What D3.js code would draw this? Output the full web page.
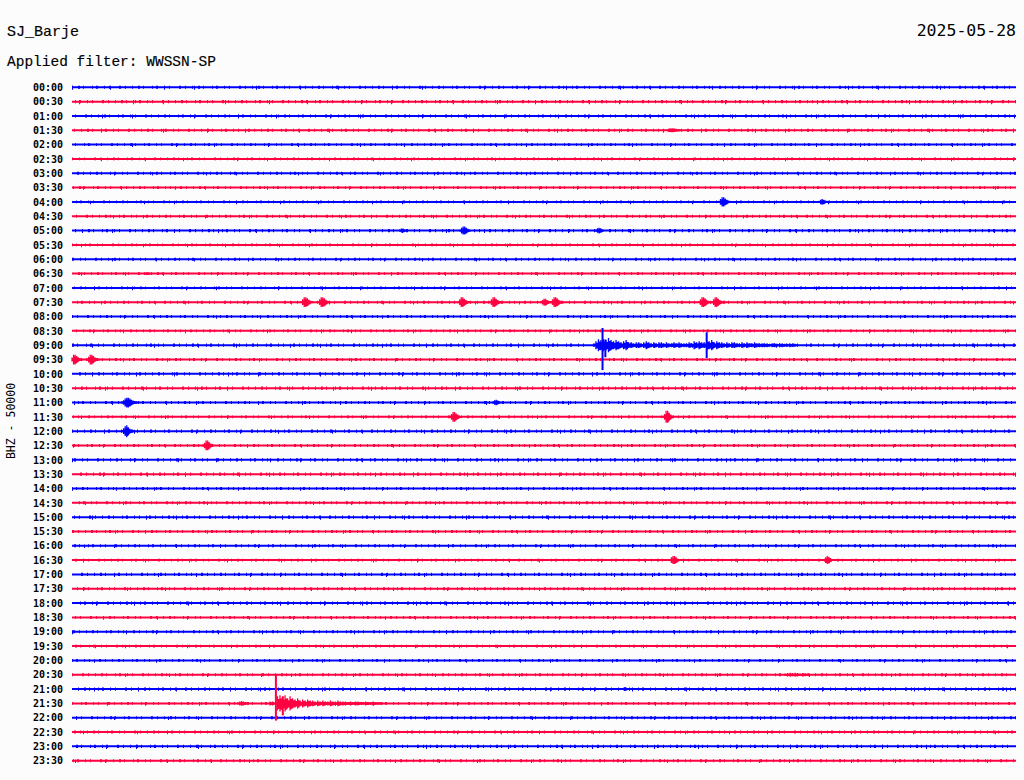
<!DOCTYPE html>
<html>
<head>
<meta charset="utf-8">
<script src="https://cdn.jsdelivr.net/npm/d3@7"></script>
<style>
  html, body { margin: 0; padding: 0; background: #fcfcfc; }
  svg { display: block; }
</style>
</head>
<body>
<script>
// ---------- DATA ----------
const stationName = "SJ_Barje";
const filterText = "Applied filter: WWSSN-SP";
const dateText = "2025-05-28";
const channelText = "BHZ - 50000";

const timeLabels = [
  "00:00","00:30","01:00","01:30","02:00","02:30","03:00","03:30",
  "04:00","04:30","05:00","05:30","06:00","06:30","07:00","07:30",
  "08:00","08:30","09:00","09:30","10:00","10:30","11:00","11:30",
  "12:00","12:30","13:00","13:30","14:00","14:30","15:00","15:30",
  "16:00","16:30","17:00","17:30","18:00","18:30","19:00","19:30",
  "20:00","20:30","21:00","21:30","22:00","22:30","23:00","23:30"
];
const traceColors = ["#0000ff", "#ff0040"];

// background noise level per row (kilo-counts)
const noiseLevel = [
  4,4,4,4,3,3,3,3, 3,3,4,3,3,3,3,3, 3,3,4,3,4,4,4,3,
  4,3,4,4,3,3,4,3, 3,3,4,3,4,3,4,3, 3,3,4,3,3,3,4,3
];

// event envelopes: row, start minute, sample step (min), amplitude (kilo-counts)
const events = [
  { row: "01:30", start: 18.94, step: 0.05, amp: [4,6,7,7,6,5,4,4] },
  { row: "04:00", start: 20.56, step: 0.05, amp: [4,10,16,16,12,8,5,4] },
  { row: "04:00", start: 23.74, step: 0.05, amp: [4,8,10,8,5,4] },
  { row: "05:00", start: 10.42, step: 0.05, amp: [4,7,7,4] },
  { row: "05:00", start: 12.33, step: 0.05, amp: [4,10,14,14,10,6,4] },
  { row: "05:00", start: 16.65, step: 0.05, amp: [4,8,10,8,5] },
  { row: "06:30", start: 2.32,  step: 0.05, amp: [3,5,5,3] },
  { row: "07:30", start: 7.28,  step: 0.05, amp: [4,10,17,17,14,9,5,4] },
  { row: "07:30", start: 7.82,  step: 0.05, amp: [4,10,17,17,14,9,5,4] },
  { row: "07:30", start: 12.27, step: 0.05, amp: [4,10,17,17,12,8,5,4] },
  { row: "07:30", start: 13.28, step: 0.05, amp: [4,10,17,17,12,8,5,4] },
  { row: "07:30", start: 14.90, step: 0.05, amp: [4,8,12,12,8,5,4] },
  { row: "07:30", start: 15.22, step: 0.05, amp: [4,10,17,17,14,9,5,4] },
  { row: "07:30", start: 19.92, step: 0.05, amp: [4,10,17,17,14,9,5,4] },
  { row: "07:30", start: 20.34, step: 0.05, amp: [4,10,17,17,12,8,5,4] },
  { row: "09:30", start: 0.00,  step: 0.05, amp: [7,17,17,12,8,5,4] },
  { row: "09:30", start: 0.48,  step: 0.05, amp: [4,10,17,17,12,8,5,4] },
  { row: "11:00", start: 1.59,  step: 0.05, amp: [4,8,14,17,17,14,10,7,5,4] },
  { row: "11:00", start: 13.38, step: 0.05, amp: [4,8,10,7,4] },
  { row: "11:30", start: 12.01, step: 0.05, amp: [4,10,17,17,12,8,5] },
  { row: "11:30", start: 18.78, step: 0.05, amp: [4,10,21,21,14,8,5] },
  { row: "12:00", start: 1.59,  step: 0.05, amp: [4,10,17,21,14,8,5,4] },
  { row: "12:30", start: 4.16,  step: 0.05, amp: [4,10,17,17,12,7,4] },
  { row: "16:30", start: 19.00, step: 0.05, amp: [4,10,14,14,10,6] },
  { row: "16:30", start: 23.90, step: 0.05, amp: [4,10,14,12,7] },
  { row: "20:30", start: 22.66, step: 0.08, amp: [4,6,7,5,7,6,4,6,5,4] },
  { row: "21:00", start: 17.50, step: 0.05, amp: [3,6,6,3] },
  { row: "21:30", start: 5.27,  step: 0.06, amp: [4,7,8,7,5,4] },
  { row: "09:00", start: 16.65, step: 0.08, amp: [
      14,21,18,21,18,25,18,14,18,14,10,14,18,10,
      10,7,10,10,7,10,14,10,7,10,7,10,10,7,10,7,7,10,7,10,
      7,7,7,10,7,14,10,14,10,10,
      18,14,18,10,14,10,
      10,7,10,7,10,10,7,7,10,7,10,7,7,10,7,7,
      7,7,7,5,7,7,5,7,7,5,5,7,5,5] },
  { row: "21:30", start: 6.29, step: 0.08, amp: [
      7,7,0,25,28,21,28,18,25,
      18,14,18,10,14,10,14,10,
      10,7,10,7,10,7,7,10,7,7,10,7,
      7,7,5,7,5,7,7,5,5,7,5,5,7,5,5,5] }
];

// sharp spikes: row, minute, peak up / peak down (kilo-counts)
const spikes = [
  { row: "09:00", minute: 16.86, up: 60,  down: 87 },
  { row: "09:00", minute: 16.95, up: 20,  down: 42 },
  { row: "09:00", minute: 20.17, up: 45,  down: 45 },
  { row: "21:30", minute: 6.48,  up: 101, down: 60 },
  { row: "21:30", minute: 6.70,  up: 25,  down: 42 }
];

// ---------- CHART ----------
const W = 1024, H = 780;
const svg = d3.select("body").append("svg")
  .attr("width", W).attr("height", H)
  .style("background", "#fcfcfc");

const x = d3.scaleLinear().domain([0, 30]).range([72, 1016]);
const y = d3.scalePoint().domain(timeLabels).range([87.3, 760.7]);
const rowStep = y.step();
const amp = d3.scaleLinear().domain([0, 50]).range([0, rowStep]);
const colorOf = r => traceColors[timeLabels.indexOf(r) % 2];

// titles
svg.append("text").attr("x", 7).attr("y", 36)
  .attr("font-family", "Liberation Mono, monospace").attr("font-size", 15)
  .attr("fill", "#000").attr("stroke", "#000").attr("stroke-width", 0.15)
  .text(stationName);
svg.append("text").attr("x", 7).attr("y", 66)
  .attr("font-family", "Liberation Mono, monospace").attr("font-size", 14.5)
  .attr("fill", "#000").attr("stroke", "#000").attr("stroke-width", 0.15)
  .text(filterText);
svg.append("text").attr("x", 1016).attr("y", 36).attr("text-anchor", "end")
  .attr("font-family", "DejaVu Sans Mono, monospace").attr("font-size", 16.5)
  .attr("fill", "#000").text(dateText);
svg.append("text")
  .attr("transform", "translate(15,421) rotate(-90)")
  .attr("text-anchor", "middle")
  .attr("font-family", "DejaVu Sans Mono, monospace").attr("font-size", 11.5)
  .attr("fill", "#000").text(channelText);

// time axis on the left
const yAxis = svg.append("g")
  .attr("transform", "translate(63,0)")
  .call(d3.axisLeft(y).tickSize(0).tickPadding(0));
yAxis.select(".domain").remove();
yAxis.selectAll("text")
  .attr("font-family", "DejaVu Sans Mono, monospace")
  .attr("font-weight", "bold")
  .attr("font-size", 10)
  .attr("fill", "#000");

// base traces
const traces = svg.append("g");
timeLabels.forEach((lab, i) => {
  const yy = y(lab);
  const col = traceColors[i % 2];
  traces.append("line")
    .attr("x1", x(0)).attr("x2", x(30)).attr("y1", yy).attr("y2", yy)
    .attr("stroke", col).attr("stroke-width", 2);
  // noise texture (styled dashed overlays)
  traces.append("line")
    .attr("x1", x(0)).attr("x2", x(30)).attr("y1", yy).attr("y2", yy)
    .attr("stroke", col)
    .attr("stroke-width", 2 + 2 * amp(noiseLevel[i]) * 0.5)
    .attr("stroke-dasharray", "1 5 2 3 1 8 1 3 2 6 1 4 1 9 2 4 1 6")
    .attr("stroke-dashoffset", i * 17);
  traces.append("line")
    .attr("x1", x(0)).attr("x2", x(30)).attr("y1", yy + 0.5).attr("y2", yy + 0.5)
    .attr("stroke", col)
    .attr("stroke-width", 2 + 2 * amp(noiseLevel[i]) * 0.9)
    .attr("stroke-dasharray", "1 37 1 53 1 29 1 61 1 43")
    .attr("stroke-dashoffset", i * 31);
});

// event waveforms: vertical swings between +amp and -amp per sample
events.forEach(ev => {
  const yy = y(ev.row);
  const p = d3.path();
  ev.amp.forEach((a, k) => {
    const t = ev.start + k * ev.step;
    p.moveTo(x(t), yy - amp(a));
    p.lineTo(x(t), yy + amp(a));
    p.moveTo(x(t + ev.step / 2), yy - amp(a) * 0.6);
    p.lineTo(x(t + ev.step / 2), yy + amp(a) * 0.8);
  });
  svg.append("path")
    .attr("d", p.toString())
    .attr("fill", "none")
    .attr("stroke", colorOf(ev.row))
    .attr("stroke-width", 1.3);
});

// spikes
svg.append("g").selectAll("line").data(spikes).join("line")
  .attr("x1", d => x(d.minute)).attr("x2", d => x(d.minute))
  .attr("y1", d => y(d.row) - amp(d.up))
  .attr("y2", d => y(d.row) + amp(d.down))
  .attr("stroke", d => colorOf(d.row))
  .attr("stroke-width", 2);
</script>
</body>
</html>
